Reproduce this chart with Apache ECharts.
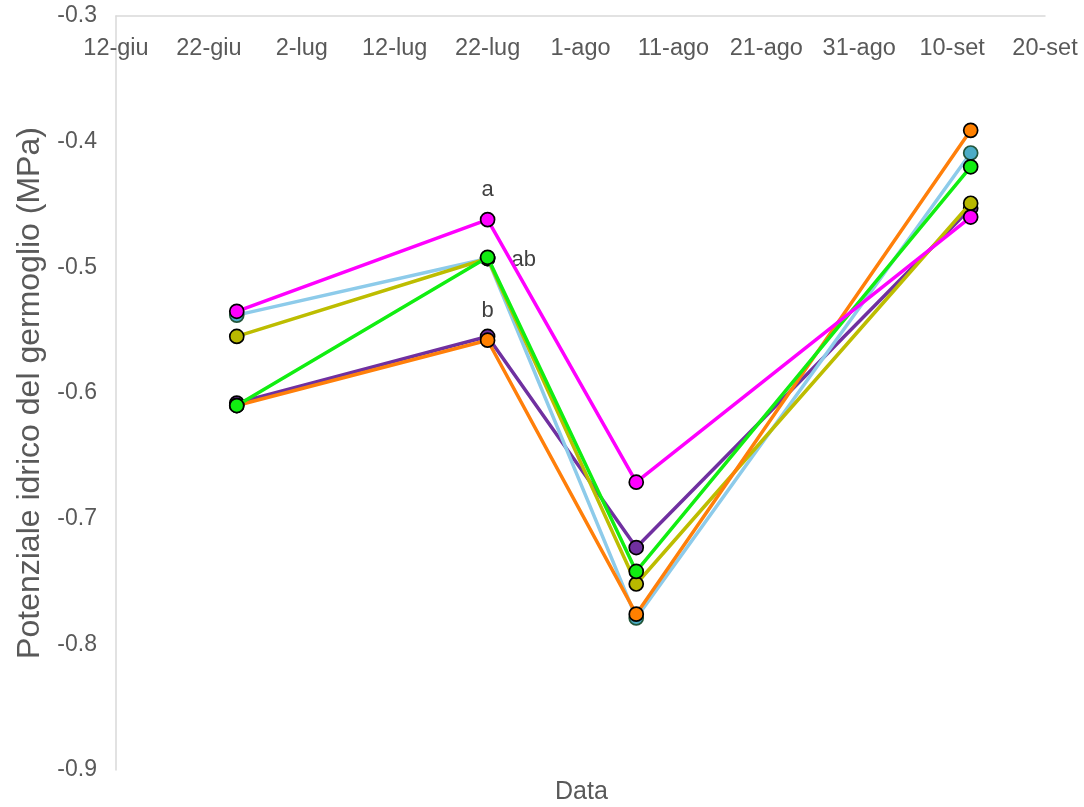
<!DOCTYPE html>
<html>
<head>
<meta charset="utf-8">
<script src="https://cdn.jsdelivr.net/npm/echarts@6/dist/echarts.min.js"></script>
<style>
html,body{margin:0;padding:0;background:#fff;}
#chart{width:1084px;height:807px;}
</style>
</head>
<body>
<div id="chart"></div>
<script>
// ---- data ----
const dates = ['2020-06-25', '2020-07-22', '2020-08-07', '2020-09-12'];
const axisStart = '2020-06-12';
const axisEnd = '2020-09-20';
const tickDays = 10;
const monthNames = ['gen','feb','mar','apr','mag','giu','lug','ago','set','ott','nov','dic'];
const yTicks = [-0.9, -0.8, -0.7, -0.6, -0.5, -0.4, -0.3];

const seriesNames = ['Trattamento 1', 'Trattamento 2', 'Trattamento 3', 'Trattamento 4', 'Trattamento 5', 'Trattamento 6'];
const purpleVals  = [-0.608, -0.555, -0.723, -0.453];
const blueVals    = [-0.538, -0.493, -0.779, -0.409];
const oliveVals   = [-0.555, -0.493, -0.752, -0.449];
const orangeVals  = [-0.610, -0.558, -0.776, -0.391];
const greenVals   = [-0.610, -0.492, -0.742, -0.420];
const magentaVals = [-0.535, -0.462, -0.671, -0.460];

// significance letters: [series index, point index, text]
const letters = [[5, 1, 'a'], [4, 1, 'ab'], [0, 1, 'b']];

// ---- build ----
const ts = s => Date.parse(s + 'T00:00:00Z');
const DAY = 86400000;
const allVals = [purpleVals, blueVals, oliveVals, orangeVals, greenVals, magentaVals];
const lineColors = ['#7030A0', '#8DCBEA', '#BDBD00', '#FF7F0A', '#11EE11', '#FF00FF'];
const markColors = ['#7030A0', '#4BACC6', '#B8B800', '#FF8000', '#11EE11', '#FF00FF'];
const markBorders = ['#000', '#22553A', '#000', '#000', '#000', '#000'];
const labelStyles = {
  'a':  {position: 'top', distance: 11},
  'ab': {position: 'right', distance: 16, offset: [0, 3]},
  'b':  {position: 'top', distance: 7}
};

const series = allVals.map((vals, si) => ({
  name: seriesNames[si],
  type: 'line',
  data: vals.map((v, i) => {
    const item = {value: [ts(dates[i]), v]};
    const L = letters.find(l => l[0] === si && l[1] === i);
    if (L) {
      item.label = Object.assign({
        show: true, formatter: L[2], color: '#404040', fontSize: 22,
        fontFamily: 'Liberation Sans, Arial, sans-serif'
      }, labelStyles[L[2]]);
    }
    return item;
  }),
  symbol: 'circle',
  symbolSize: 14,
  showAllSymbol: true,
  lineStyle: {color: lineColors[si], width: 3.5},
  itemStyle: {color: markColors[si], borderColor: markBorders[si], borderWidth: 1.7},
  emphasis: {disabled: true},
  animation: false,
  z: 2 + si
}));

const chart = echarts.init(document.getElementById('chart'), null, {renderer: 'canvas'});
chart.setOption({
  backgroundColor: '#ffffff',
  animation: false,
  grid: {left: 116, right: 39, top: 16, bottom: 37, containLabel: false, outerBoundsMode: 'none'},
  xAxis: {
    type: 'value',
    position: 'top',
    min: ts(axisStart),
    max: ts(axisEnd),
    interval: tickDays * DAY,
    axisLine: {show: true, onZero: false, lineStyle: {color: '#D9D9D9', width: 1.5}},
    axisTick: {show: false},
    splitLine: {show: false},
    axisLabel: {
      inside: true,
      margin: 21,
      color: '#595959',
      fontSize: 23.5,
      fontFamily: 'Liberation Sans, Arial, sans-serif',
      showMinLabel: true,
      showMaxLabel: true,
      formatter: v => {
        const d = new Date(v);
        return d.getUTCDate() + '-' + monthNames[d.getUTCMonth()];
      }
    }
  },
  yAxis: {
    type: 'value',
    min: yTicks[0],
    max: yTicks[yTicks.length - 1],
    interval: 0.1,
    name: 'Potenziale idrico del germoglio (MPa)',
    nameLocation: 'middle',
    nameGap: 69,
    nameTextStyle: {color: '#595959', fontSize: 32, fontFamily: 'Liberation Sans, Arial, sans-serif'},
    axisLine: {show: true, onZero: false, lineStyle: {color: '#D9D9D9', width: 1.5}},
    axisTick: {show: false},
    splitLine: {show: false},
    axisLabel: {
      margin: 19,
      color: '#595959',
      fontSize: 23,
      fontFamily: 'Liberation Sans, Arial, sans-serif',
      formatter: v => v.toFixed(1)
    }
  },
  graphic: [{
    type: 'text',
    left: 555,
    top: 780,
    style: {text: 'Data', fill: '#595959', fontSize: 25, fontFamily: 'Liberation Sans, Arial, sans-serif'}
  }],
  series: series
});
</script>
</body>
</html>
